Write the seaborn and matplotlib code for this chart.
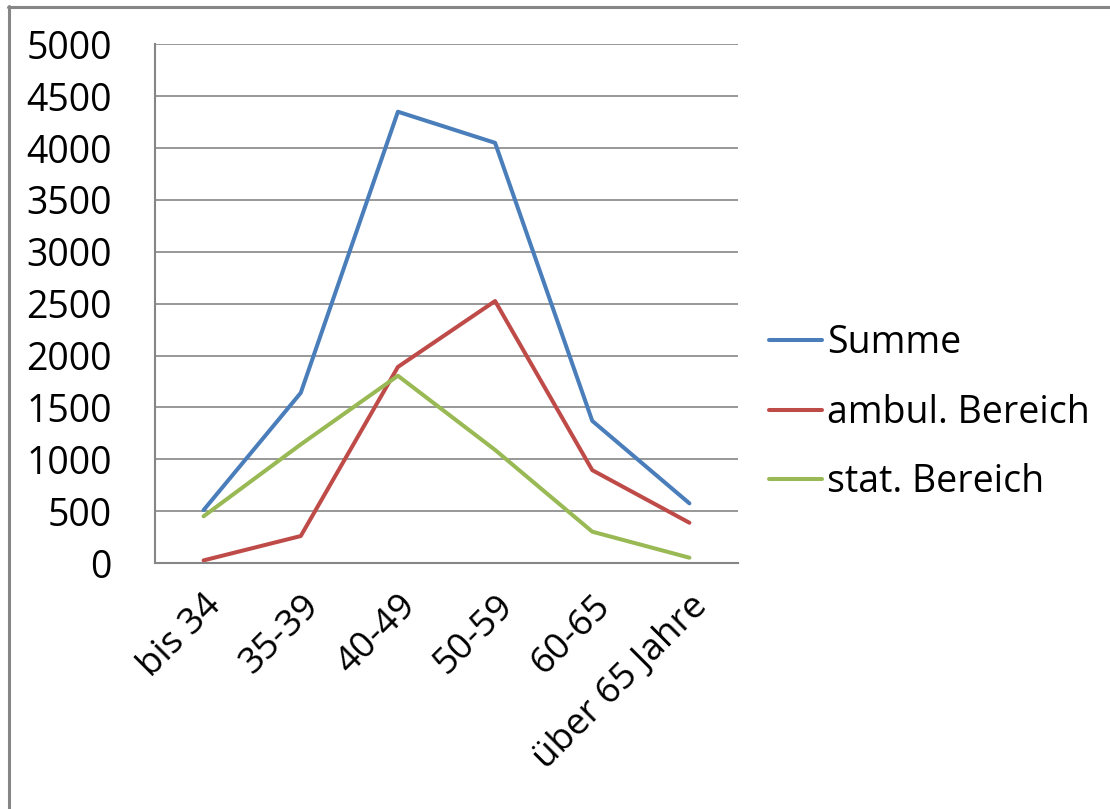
import numpy as np
import pandas as pd
import matplotlib
matplotlib.use("Agg")
import matplotlib.pyplot as plt
from matplotlib.lines import Line2D
import seaborn as sns

# data
ages = ["bis 34", "35-39", "40-49", "50-59", "60-65", "über 65 Jahre"]
summe = [510, 1640, 4350, 4050, 1370, 575]
ambul = [25, 260, 1890, 2525, 895, 388]
stat = [450, 1143, 1805, 1090, 302, 51]
series = ["Summe", "ambul. Bereich", "stat. Bereich"]
colors = ["#4A7EBB", "#BE4B48", "#98B954"]

rows = []
for name, vals in zip(series, [summe, ambul, stat]):
    for i, (a, v) in enumerate(zip(ages, vals)):
        rows.append({"Alter": a, "Pos": i, "Wert": v, "Bereich": name})
df = pd.DataFrame(rows)

sns.set_style("white", {"text.color": "black", "xtick.color": "black",
                        "ytick.color": "black"})
plt.rcParams['font.family'] = ['Open Sans', 'DejaVu Sans']

W, H = 1110, 809
fig = plt.figure(figsize=(W / 100, H / 100), dpi=100)
ax = fig.add_axes([155 / W, 1 - 563 / H, (738 - 155) / W, (563 - 44.3) / H])

sns.lineplot(data=df, x="Pos", y="Wert", hue="Bereich", hue_order=series,
             palette=colors, linewidth=2.9, sort=False, estimator=None, ax=ax)

grey = "#868686"
ax.set_ylim(0, 5000)
ax.set_xlim(-0.5, len(ages) - 0.5)
ax.set_yticks(np.arange(0, 5001, 500))
ax.yaxis.grid(True, color=grey, linewidth=1.2)
ax.set_axisbelow(True)
ax.set_xticks(range(len(ages)))
ax.set_xticklabels(ages, rotation=45, ha="right", va="top", rotation_mode="anchor")
ax.set_xticks(np.arange(-0.5, len(ages), 1), minor=True)
ax.tick_params(axis="x", which="major", length=0, pad=18, labelsize=26.5,
               labelcolor="black")
ax.tick_params(axis="x", which="minor", length=11, width=1.2, color=grey)
ax.tick_params(axis="y", length=11, width=1.2, color=grey, labelsize=27,
               pad=20, labelcolor="black")
ax.set_xlabel("")
ax.set_ylabel("")
for s in ["top", "right"]:
    ax.spines[s].set_visible(False)
for s in ["left", "bottom"]:
    ax.spines[s].set_color(grey)
    ax.spines[s].set_linewidth(1.5)

leg = ax.legend(loc="center left", bbox_to_anchor=(769 / W, 1 - 413 / H),
                bbox_transform=fig.transFigure, frameon=False, fontsize=27,
                handlelength=1.4, handletextpad=0.15, labelspacing=0.84,
                borderpad=0, borderaxespad=0)
for t in leg.get_texts():
    t.set_color("black")
for line in leg.get_lines():
    line.set_linewidth(2.9)

# chart-area border (left and top edges)
fig.add_artist(Line2D([9 / W, 9 / W], [0, 1 - 6 / H], transform=fig.transFigure,
                      color=grey, linewidth=2.2))
fig.add_artist(Line2D([8 / W, 1], [1 - 6.5 / H, 1 - 6.5 / H], transform=fig.transFigure,
                      color=grey, linewidth=2.2))

fig.savefig("out.png", dpi=100)
